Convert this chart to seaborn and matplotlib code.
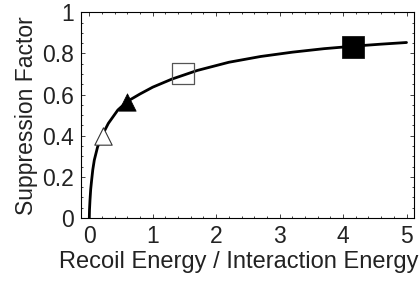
import matplotlib
matplotlib.use("Agg")
import matplotlib.pyplot as plt
import seaborn as sns
import pandas as pd
from matplotlib.ticker import MultipleLocator

# Curve
curve_x = [0.0, 0.003, 0.011, 0.022, 0.037, 0.055, 0.079, 0.13, 0.20, 0.30, 0.45,
           0.60, 0.80, 1.0, 1.3, 1.7, 2.2, 2.7, 3.2, 3.7, 4.2, 4.6, 5.0]
curve_y = [0.0, 0.04, 0.088, 0.14, 0.185, 0.235, 0.282, 0.345, 0.40, 0.46, 0.525,
           0.567, 0.603, 0.636, 0.675, 0.717, 0.757, 0.785, 0.806, 0.823, 0.836, 0.845, 0.853]

# Data points
open_tri_x = [0.21]
open_tri_y = [0.40]
fill_tri_x = [0.59]
fill_tri_y = [0.564]
open_sq_x = [1.48]
open_sq_y = [0.702]
fill_sq_x = [4.16]
fill_sq_y = [0.833]

x_ticks = [0, 1, 2, 3, 4, 5]
y_ticks = [0, 0.2, 0.4, 0.6, 0.8, 1]
y_tick_labels = ["0", "0.2", "0.4", "0.6", "0.8", "1"]

sns.set_theme(style="ticks")
plt.rcParams['font.family'] = ['Liberation Sans', 'DejaVu Sans']
plt.rcParams.update({
    "xtick.direction": "in", "ytick.direction": "in",
    "xtick.top": True, "ytick.right": True,
    "xtick.major.size": 3.0, "ytick.major.size": 3.0,
    "xtick.minor.size": 1.6, "ytick.minor.size": 1.6,
    "xtick.major.width": 0.6, "ytick.major.width": 0.6,
    "xtick.minor.width": 0.6, "ytick.minor.width": 0.6,
    "axes.linewidth": 0.8,
    "axes.edgecolor": "black",
    "xtick.color": "#222222", "ytick.color": "#222222",
})

fig = plt.figure(figsize=(4.2, 2.85), dpi=100)
ax = fig.add_axes([0.193, 0.235, 0.793, 0.722])

df = pd.DataFrame({"x": curve_x, "y": curve_y})
sns.lineplot(data=df, x="x", y="y", ax=ax, color="black", linewidth=2.0,
             estimator=None, sort=False)

sns.scatterplot(x=open_tri_x, y=open_tri_y, ax=ax, marker="^", s=12.5**2,
                facecolor="white", edgecolor="#333333", linewidth=0.8, zorder=3)
sns.scatterplot(x=fill_tri_x, y=fill_tri_y, ax=ax, marker="^", s=12.5**2,
                color="black", edgecolor="black", linewidth=0.5, zorder=3)
sns.scatterplot(x=open_sq_x, y=open_sq_y, ax=ax, marker="s", s=15.6**2,
                facecolor="none", edgecolor="#555555", linewidth=0.9, zorder=3)
sns.scatterplot(x=fill_sq_x, y=fill_sq_y, ax=ax, marker="s", s=15.8**2,
                color="black", edgecolor="black", linewidth=0.5, zorder=3)

ax.set_xlim(-0.13, 5.12)
ax.set_ylim(0, 1)
ax.set_xticks(x_ticks)
ax.set_xticklabels([str(t) for t in x_ticks])
ax.set_yticks(y_ticks)
ax.set_yticklabels(y_tick_labels)
ax.xaxis.set_minor_locator(MultipleLocator(0.2))
ax.yaxis.set_minor_locator(MultipleLocator(0.05))
ax.tick_params(axis="both", which="major", labelsize=16.5, labelcolor="#222222", pad=5)
ax.set_xlabel("Recoil Energy / Interaction Energy", fontsize=17, color="#222222", labelpad=2)
ax.xaxis.label.set_x(0.474)
ax.set_ylabel("Suppression Factor", fontsize=16.5, color="#222222", labelpad=3)
for s in ax.spines.values():
    s.set_visible(True)

fig.savefig("out.png", dpi=100)
